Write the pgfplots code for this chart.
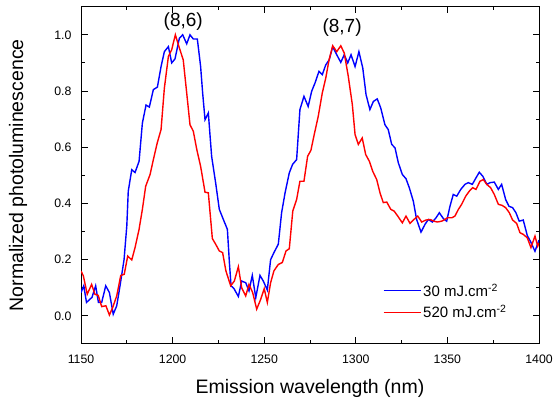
\documentclass[border=0pt]{standalone}
\usepackage{fontspec}
\setmainfont{Liberation Sans}
\usepackage{pgfplots}
\pgfplotsset{compat=1.18}
\begin{document}
\begin{tikzpicture}
\begin{axis}[
  scale only axis, width=458pt, height=337.3pt,
  at={(0,0)}, anchor=south west,
  xmin=1150, xmax=1400, ymin=-0.1, ymax=1.1,
  xtick={1150,1200,...,1400}, ytick={0,0.2,...,1.0},
  minor x tick num=1, minor y tick num=1,
  tick align=inside, major tick length=6.5pt, minor tick length=3.5pt,
  axis line style={line width=1pt}, every tick/.style={black, line width=0.9pt},
  /pgf/number format/assume math mode=true,
  xticklabel style={/pgf/number format/1000 sep={}, font=\fontsize{12.3}{14}\selectfont, yshift=-7.5pt},
  yticklabel style={/pgf/number format/fixed, /pgf/number format/fixed zerofill, /pgf/number format/precision=1, font=\fontsize{12.3}{14}\selectfont, xshift=-6pt},
  xlabel={Emission wavelength (nm)}, ylabel={Normalized photoluminescence},
  xlabel style={font=\fontsize{19.5}{22}\selectfont, at={(axis description cs:0.5,-0.1305)}, anchor=center},
  ylabel style={font=\fontsize{19.5}{22}\selectfont, at={(axis description cs:-0.1376,0.5)}, anchor=center},
  legend cell align=left,
  legend style={draw=none, fill=none, font=\fontsize{15}{18}\selectfont, at={(axis description cs:0.652,0.126)}, anchor=west, row sep=3.5pt},
  legend image code/.code={\draw[#1, line width=1.4pt] (0pt,0pt) -- (37pt,0pt);},
]
\addplot[blue, line width=1.4pt] coordinates {
(1150,0.083)(1151.5,0.107)(1153,0.048)(1156,0.066)(1158,0.107)(1159.5,0.048)(1161.3,0.048)(1163.5,0.107)(1165.5,0.083)(1167.6,0.006)(1169.5,0.036)(1171.3,0.107)(1173.5,0.20)(1175,0.32)(1175.8,0.444)(1177.7,0.52)(1179.5,0.51)(1181.7,0.55)(1183.5,0.686)(1185.5,0.75)(1187.3,0.743)(1189.5,0.805)(1191.7,0.814)(1193.7,0.887)(1195.5,0.94)(1197.7,0.958)(1199.5,0.90)(1201.3,0.914)(1203.7,0.988)(1205.5,1.0)(1207.7,0.968)(1209.5,1.0)(1211.3,0.985)(1213.5,0.985)(1215.3,0.887)(1216.4,0.793)(1217.7,0.698)(1219.5,0.722)(1221.3,0.568)(1223.5,0.473)(1225.5,0.379)(1227.7,0.343)(1229.9,0.308)(1231,0.19)(1231.9,0.107)(1233.5,0.097)(1235.9,0.069)(1237.7,0.124)(1239.9,0.118)(1241.7,0.089)(1243.5,0.144)(1245.4,0.065)(1247.7,0.144)(1249.5,0.124)(1251.7,0.092)(1253.5,0.2)(1255.3,0.225)(1257.7,0.255)(1259.5,0.367)(1261.4,0.438)(1263.7,0.509)(1265.5,0.539)(1267.7,0.556)(1269.5,0.734)(1271.7,0.781)(1274,0.745)(1275.9,0.799)(1277.7,0.828)(1279.9,0.87)(1281.7,0.858)(1283.6,0.893)(1285.5,0.911)(1287.4,0.958)(1289.6,0.929)(1291.8,0.902)(1293.7,0.929)(1295.6,0.90)(1297.4,0.929)(1299.6,0.887)(1301.7,0.94)(1303.8,0.882)(1305.6,0.787)(1307.7,0.734)(1309.6,0.763)(1311.7,0.772)(1313.6,0.74)(1315.9,0.68)(1317.7,0.663)(1319.6,0.61)(1321.4,0.598)(1323.2,0.545)(1325.4,0.503)(1327.4,0.488)(1329.2,0.456)(1331.4,0.408)(1333.2,0.343)(1335.6,0.298)(1337.8,0.326)(1339.6,0.343)(1341.8,0.334)(1343.8,0.349)(1345.6,0.367)(1347.8,0.346)(1349.6,0.337)(1351.4,0.39)(1353.2,0.432)(1355.1,0.426)(1357.3,0.45)(1359.6,0.468)(1361.4,0.474)(1363.6,0.468)(1365.6,0.491)(1367.4,0.511)(1369.3,0.497)(1371.5,0.468)(1373.3,0.474)(1375.6,0.476)(1377.8,0.45)(1379.6,0.468)(1381.8,0.414)(1383.6,0.39)(1385.6,0.385)(1387.4,0.367)(1389.2,0.337)(1391.4,0.341)(1393.6,0.286)(1395.5,0.263)(1397.8,0.23)(1400,0.27)
};
\addlegendentry{30 mJ.cm\textsuperscript{-2}}
\addplot[red, line width=1.4pt] coordinates {
(1150,0.16)(1151.3,0.142)(1153.4,0.077)(1155.8,0.112)(1157.6,0.077)(1159.4,0.073)(1161.3,0.033)(1163.6,0.036)(1165.5,0.003)(1167.3,0.03)(1169.5,0.071)(1171.7,0.144)(1173.6,0.148)(1175.5,0.213)(1177.7,0.199)(1179.5,0.243)(1181.7,0.308)(1183.5,0.379)(1185.3,0.461)(1187.7,0.503)(1189.5,0.556)(1191.6,0.615)(1193.7,0.663)(1195.5,0.81)(1197.7,0.923)(1199.5,0.947)(1201.5,1.0)(1203.7,0.953)(1205.8,0.911)(1207.7,0.793)(1209.5,0.68)(1211.3,0.657)(1213.2,0.592)(1215.3,0.532)(1217.7,0.44)(1219.5,0.438)(1221.7,0.275)(1223.5,0.255)(1225.5,0.231)(1227.3,0.225)(1229.1,0.16)(1231.7,0.107)(1233.7,0.124)(1235.9,0.175)(1237.7,0.10)(1239.9,0.071)(1241.7,0.112)(1243.7,0.083)(1245.9,0.024)(1248.1,0.059)(1250,0.097)(1251.7,0.048)(1253.5,0.118)(1255.3,0.16)(1257.7,0.183)(1259.9,0.19)(1261.9,0.231)(1263.7,0.239)(1265.6,0.373)(1267.7,0.414)(1269.5,0.479)(1271.7,0.479)(1273.7,0.568)(1275.5,0.589)(1277.3,0.645)(1279.5,0.71)(1281.7,0.793)(1283.6,0.846)(1285.4,0.911)(1287.4,0.961)(1289.6,0.94)(1291.8,0.961)(1293.7,0.935)(1295.9,0.852)(1298.1,0.752)(1299.6,0.645)(1301.4,0.61)(1303.5,0.633)(1305.4,0.574)(1307.4,0.55)(1309.2,0.515)(1311.4,0.485)(1313.2,0.438)(1315,0.403)(1316.9,0.405)(1319.1,0.379)(1320.9,0.373)(1322.9,0.355)(1325.4,0.331)(1327.4,0.355)(1329.6,0.329)(1331.4,0.341)(1333.8,0.355)(1336,0.334)(1338.3,0.341)(1340.5,0.343)(1342.7,0.337)(1344.5,0.334)(1346.9,0.337)(1348.7,0.343)(1350,0.349)(1352.4,0.349)(1354.1,0.355)(1356,0.379)(1357.8,0.397)(1360,0.426)(1362,0.444)(1363.8,0.456)(1365.6,0.45)(1367.8,0.479)(1369.6,0.485)(1371.5,0.468)(1373.6,0.456)(1375.6,0.432)(1377.8,0.397)(1379.9,0.393)(1381.8,0.385)(1383.8,0.367)(1385.6,0.341)(1387.8,0.329)(1389.6,0.296)(1391.4,0.29)(1393.6,0.278)(1395.6,0.243)(1397.8,0.284)(1399.3,0.248)(1400,0.26)
};
\addlegendentry{520 mJ.cm\textsuperscript{-2}}
\node[font=\fontsize{19}{22}\selectfont] at (axis cs:1205.8,1.047) {(8,6)};
\node[font=\fontsize{19}{22}\selectfont] at (axis cs:1292.5,1.027) {(8,7)};
\end{axis}
\pgfresetboundingbox
\path[use as bounding box] (-81pt,-59pt) rectangle (475pt,344pt);
\end{tikzpicture}
\end{document}
